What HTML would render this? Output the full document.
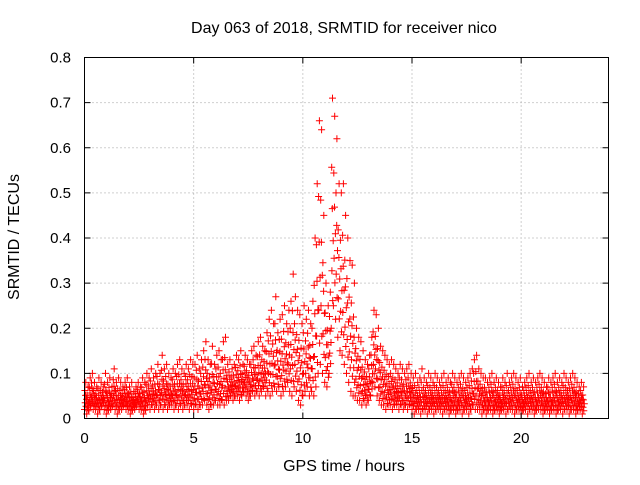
<!DOCTYPE html>
<html><head><meta charset="utf-8"><style>
body{margin:0;background:#fff;}
svg text{font-family:"Liberation Sans",sans-serif;font-size:15px;fill:#000;}
svg text.big{font-size:16px;}
</style></head><body>
<svg id="chart" width="640" height="480" xmlns="http://www.w3.org/2000/svg">
<rect x="0" y="0" width="640" height="480" fill="#fff"/>
<g id="grid"></g>
<g id="pts"></g>
<rect x="84.5" y="57.5" width="524" height="361" fill="none" stroke="#000" stroke-width="1"/>
<g id="ticks"></g>
<text class="big" x="344" y="33" text-anchor="middle">Day 063 of 2018, SRMTID for receiver nico</text>
<text class="big" x="344" y="471" text-anchor="middle">GPS time / hours</text>
<text class="big" transform="translate(19,237) rotate(-90)" text-anchor="middle">SRMTID / TECUs</text>
</svg>
<script>
const xTicks=[0,5,10,15,20];
const yTicks=[0,0.1,0.2,0.3,0.4,0.5,0.6,0.7,0.8];
const yTickLabels=["0","0.1","0.2","0.3","0.4","0.5","0.6","0.7","0.8"];
const binStart=0, binStep=0.1;
const hiVals=[8,7,9,10,8,7,9,8,7,10,8,9,7,11,8,9,8,7,8,9,7,8,6,7,8,7,9,8,10,9,
11,9,10,12,10,14,11,12,10,9,11,10,12,13,11,10,12,11,13,12,
12,14,11,13,15,17,13,12,16,12,14,15,13,17,18,12,13,11,12,14,
13,15,12,14,13,12,15,16,14,17,18,16,15,19,22,
24,21,27,19,22,23,25,21,24,26,
32,27,24,23,21,25,22,24,21,26,
40,52,66,64,45,30,25,28,
71,67,62,52,50,52,45,40,35,34,30,20,18,17,15,
13,12,14,18,24,23,20,16,
15,14,13,12,13,12,11,10,12,11,10,11,12,10,
9,10,8,9,11,9,8,10,9,8,10,9,8,9,10,8,9,8,10,9,8,9,10,9,8,9,10,11,
13,14,11,10,9,
9,8,9,10,8,9,8,7,9,8,10,8,9,10,9,8,9,7,8,9,10,8,9,8,9,10,9,8,7,9,8,9,10,8,9,8,10,9,8,9,10,9,8,7,8,7];
const loVals=[2,1,2,3,2,2,1,2,3,2,1,2,2,3,2,1,2,2,3,2,2,1,2,2,3,2,2,1,2,3,
2,3,2,3,2,3,2,3,2,3,3,2,3,2,3,2,3,3,2,3,
2,3,2,3,3,4,3,2,3,3,4,3,3,4,3,4,4,5,4,5,
5,4,5,6,5,4,5,6,5,6,5,6,7,5,6,
5,6,7,6,7,5,6,7,8,6,
5,7,6,4,3,5,6,7,5,6,
5,7,10,12,10,8,7,10,
20,25,22,18,15,14,12,10,8,6,5,5,4,4,3,
4,3,4,5,8,7,5,4,
3,3,2,3,3,2,3,3,2,3,2,3,2,3,
2,1,2,2,1,2,2,1,2,2,1,2,2,2,1,2,2,1,2,2,1,2,2,1,2,2,1,2,
3,2,2,2,1,
2,1,2,2,1,2,2,1,2,2,1,2,2,2,1,2,2,1,2,2,1,2,2,1,2,2,2,1,2,2,1,2,2,1,2,2,1,2,2,1,2,2,1,2,2,1];
const X0=84.5,X1=608.5,Y0=418.5,Y1=57.5;
const xs=v=>X0+(v/24)*(X1-X0);
const ys=v=>Y0-(v/0.8)*(Y0-Y1);
const NS="http://www.w3.org/2000/svg";
const grid=document.getElementById('grid'),ticks=document.getElementById('ticks'),pts=document.getElementById('pts');
function mk(tag,attrs,parent){const e=document.createElementNS(NS,tag);for(const k in attrs)e.setAttribute(k,attrs[k]);parent.appendChild(e);return e;}
yTicks.forEach((t,i)=>{
  const y=ys(t);
  if(i>0&&i<yTicks.length-1){const g=mk('line',{x1:X0,x2:X1,y1:y,y2:y,stroke:'#a0a0a0','stroke-dasharray':'1,3'},grid);
  
  }
  const l=mk('line',{x1:X0,x2:X0+6,y1:y,y2:y,stroke:'#000'},ticks);
  
  
  const r=mk('line',{x1:X1-6,x2:X1,y1:y,y2:y,stroke:'#000'},ticks);
  
  
  const tx=mk('text',{x:71,y:y+5,'text-anchor':'end'},ticks);tx.textContent=yTickLabels[i];
  
  
});
xTicks.forEach(t=>{
  const x=xs(t);
  if(t>0){const g=mk('line',{x1:x,x2:x,y1:Y0,y2:Y1,stroke:'#a0a0a0','stroke-dasharray':'1,3'},grid);
  
  }
  const l=mk('line',{x1:x,x2:x,y1:Y0,y2:Y0-6,stroke:'#000'},ticks);
  
  
  const u=mk('line',{x1:x,x2:x,y1:Y1,y2:Y1+6,stroke:'#000'},ticks);
  
  
  const tx=mk('text',{x:x,y:443,'text-anchor':'middle'},ticks);tx.textContent=String(t);
  
  
});
const fr=[0,0.12,0.25,0.38,0.52,0.7,1];
const dt=[0.0,0.07,0.03,0.09,0.05,0.02,0.06];
let d='';
for(let i=0;i<hiVals.length;i++){
  const t=binStart+i*binStep,lo=loVals[i]/100,hi=hiVals[i]/100;
  fr.forEach((f,j)=>{
    const x=xs(t+dt[j]),y=ys(lo+(hi-lo)*f);
    d+=`M${(x-3.5).toFixed(1)} ${y.toFixed(1)}h7M${x.toFixed(1)} ${(y-3.5).toFixed(1)}v7`;
  });
}
const p=mk('path',{d:d,stroke:'#ff0000','stroke-width':1,fill:'none'},pts);


</script>
</body></html>
